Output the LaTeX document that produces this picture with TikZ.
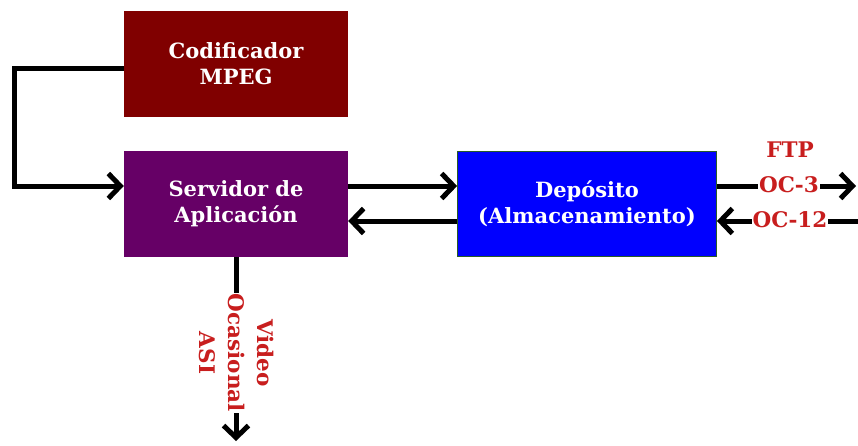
\documentclass[tikz,border=0pt]{standalone}
\usepackage{fontspec}
\setmainfont{DejaVu Serif}
\usetikzlibrary{arrows.meta}
\definecolor{codred}{RGB}{128,0,0}
\definecolor{srvpurple}{RGB}{102,0,102}
\definecolor{depblue}{RGB}{0,0,255}
\definecolor{depedge}{RGB}{40,90,40}
\definecolor{labred}{RGB}{200,30,30}
\tikzset{
  box/.style={minimum width=224pt, minimum height=106pt, inner sep=0pt, text=white,
    font=\bfseries\fontsize{21}{26}\selectfont, align=center},
  conn/.style={line width=5pt, -{Straight Barb[length=12pt,width=25pt]}},
  lab/.style={text=labred, font=\bfseries\fontsize{21.5}{29}\selectfont, inner sep=1pt, align=center},
}
\begin{document}
\begin{tikzpicture}[x=1pt,y=-1pt]
\useasboundingbox (0,0) rectangle (858,445);
\node[box, fill=codred] (cod) at (236,64) {Codificador\\MPEG};
\node[box, fill=srvpurple] (srv) at (236,204) {Servidor de\\Aplicación};
\node[box, fill=depblue, draw=depedge, line width=0.8pt, minimum width=259pt, minimum height=105pt] (dep) at (587,204) {Depósito\\(Almacenamiento)};
\coordinate (fbl) at (14,68);
\coordinate (ro) at (856,186);
\coordinate (ri) at (858,221);
\coordinate (bot) at (236,441);
\draw[conn] ([yshift=-4pt]cod.west) -- (cod.west |- fbl) -- (fbl) |- ([yshift=18pt]srv.west);
\draw[conn] ([yshift=18pt]srv.east) -- ([yshift=18pt]dep.west);
\draw[conn] ([yshift=-17pt]dep.west) -- ([yshift=-17pt]srv.east);
\draw[conn] ([yshift=18pt]dep.east) -- (ro);
\draw[conn] (ri) -- ([yshift=-17pt]dep.east);
\draw[conn] (srv.south) -- (bot);
\node[lab, fill=white] (oc3) at (789,185) {OC-3};
\node[lab] (ftp) at (790,150) {FTP};
\node[lab, fill=white] (oc12) at (790,220) {OC-12};
\node[lab, fill=white, rotate=-90] (vid) at (237,353) {Video\\Ocasional\\ASI};
\end{tikzpicture}
\end{document}
